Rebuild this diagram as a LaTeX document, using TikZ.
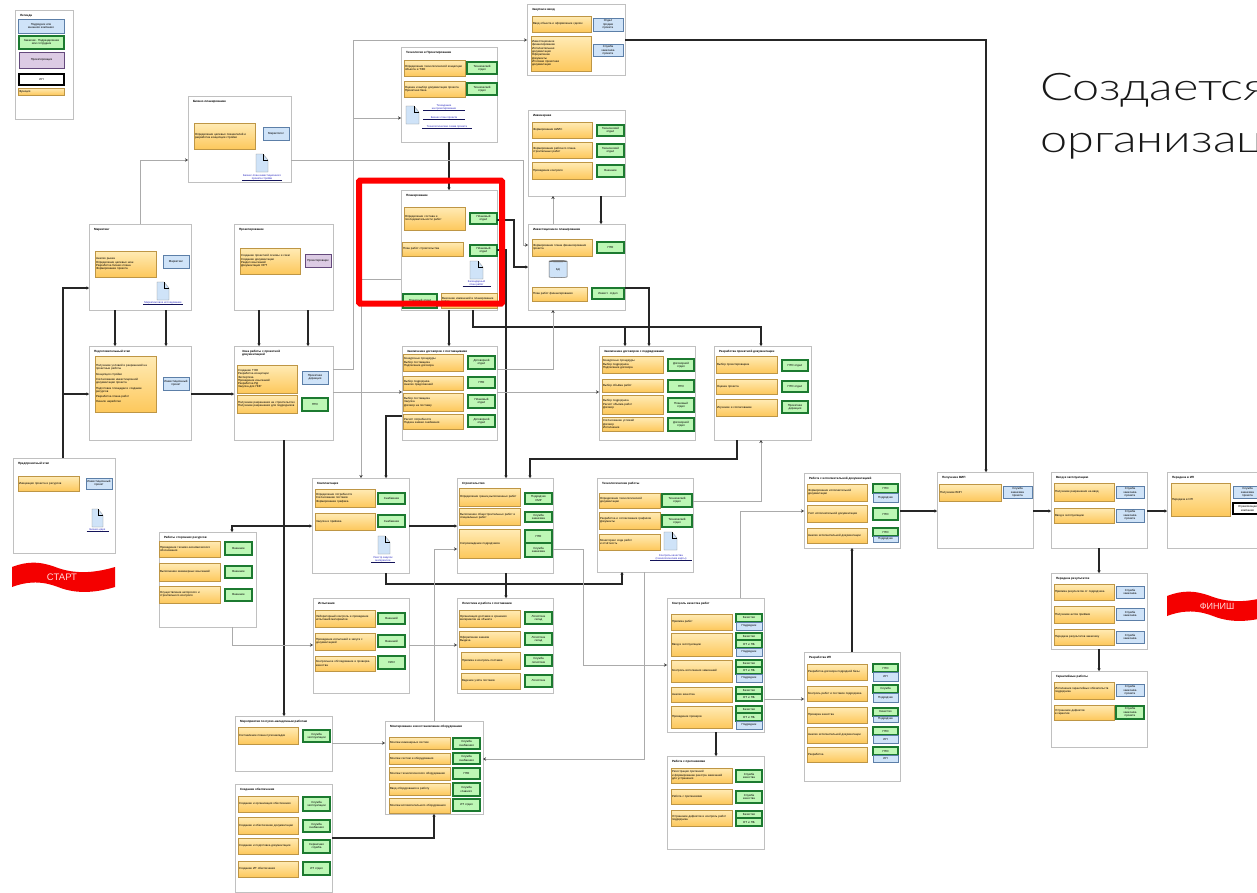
\documentclass[tikz,border=0pt]{standalone}
\usepackage{fontspec}
\setmainfont{Liberation Sans}
\newfontfamily\bigf[UprightFont=* Light,FakeStretch=1.28]{Lato}
\usetikzlibrary{arrows.meta,shapes.geometric}
\definecolor{fnT}{HTML}{FFEBB5}\definecolor{fnB}{HTML}{FDC85C}\definecolor{fnD}{HTML}{BE9645}
\definecolor{gnF}{HTML}{BDF7B5}\definecolor{gnD}{HTML}{1C7A30}
\definecolor{blF}{HTML}{CFE3F8}\definecolor{blD}{HTML}{5C7FA8}
\definecolor{puF}{HTML}{DCCBE4}\definecolor{puD}{HTML}{64497C}
\definecolor{pnD}{HTML}{C0C0C0}\definecolor{lnk}{HTML}{2A2AC0}\definecolor{nav}{HTML}{14145A}
\definecolor{bnr}{HTML}{F40000}\definecolor{gryL}{HTML}{ABABAB}
\tikzset{
  x=1pt,y=-1pt,
  base/.style={rectangle,inner sep=1pt,outer sep=0pt,font=\fontsize{2.9}{3.3}\selectfont,align=center},
  fn/.style={base,align=left,draw=fnD,line width=.5pt,top color=fnT,bottom color=fnB},
  gn/.style={base,draw=gnD,line width=1.1pt,fill=gnF},
  bl/.style={base,draw=blD,line width=.8pt,fill=blF},
  pu/.style={base,draw=puD,line width=.9pt,fill=puF},
  bk/.style={base,draw=black,line width=1.2pt,fill=white},
  panelbox/.style={rectangle,draw=pnD,line width=.55pt,fill=white,inner sep=0pt,outer sep=0pt},
  paneltitle/.style={inner sep=0pt,outer sep=0pt,anchor=north west,align=left,font=\fontsize{3}{3.5}\selectfont\bfseries},
  linktext/.style={inner sep=0pt,outer sep=0pt,align=center,text=lnk,font=\fontsize{2.7}{3.2}\selectfont},
  thk/.style={draw=black!85,line width=1.5pt,-{Stealth[length=2.6pt,width=3.4pt]}},
  gry/.style={draw=gryL,line width=.8pt,-{Stealth[length=3pt,width=3.4pt,color=black!75]}},
}
\newcommand{\bx}[7]{%
  \pgfmathsetmacro{\bw}{#5-#3}\pgfmathsetmacro{\bh}{#6-#4}\pgfmathsetmacro{\tw}{#5-#3-2}%
  \pgfmathsetmacro{\cx}{(#3+#5)/2}\pgfmathsetmacro{\cy}{(#4+#6)/2}%
  \node[#1,text width=\tw pt,minimum width=\bw pt,minimum height=\bh pt] (#2) at (\cx,\cy) {#7};}
\newcommand{\panel}[6]{%
  \pgfmathsetmacro{\bw}{#4-#2}\pgfmathsetmacro{\bh}{#5-#3}%
  \pgfmathsetmacro{\cx}{(#2+#4)/2}\pgfmathsetmacro{\cy}{(#3+#5)/2}%
  \node[panelbox,minimum width=\bw pt,minimum height=\bh pt] (#1) at (\cx,\cy) {};
  \pgfmathsetmacro{\tx}{#2+5}\pgfmathsetmacro{\ty}{#3+4}%
  \node[paneltitle] (#1-t) at (\tx,\ty) {#6};}
\newcommand{\doc}[4]{%
  \fill[blF,draw=black!45,line width=.3pt] (#1,#2) -- ({#3-5},#2) -- (#3,{#2+6}) -- (#3,#4) -- (#1,#4) -- cycle;
  \draw[black,line width=1pt] ({#3-5},#2) -- ({#3-5},{#2+6}) -- (#3,{#2+6});}
\newcommand{\lnkbar}[5]{% name, cx, cy, text, half-width of bar
  \node[linktext] (#1) at (#2,#3) {#4};
  \draw[nav,line width=.9pt] ([xshift=-#5pt,yshift=-.4pt]#1.south) -- ([xshift=#5pt,yshift=-.4pt]#1.south);}
\newcommand{\banner}[3]{% name, dx, dy
  \begin{scope}[shift={(#2,#3)}]
  \fill[bnr] (12,567) .. controls (28,561) and (40,561) .. (58,568) .. controls (78,575) and (98,572) .. (115,567)
     -- (115,587) .. controls (98,592) and (78,595) .. (58,587) .. controls (40,580) and (25,582) .. (12,587) -- cycle;
  \end{scope}}
\begin{document}
\begin{tikzpicture}
\clip (0,0) rectangle (1257,892);
\fill[white] (0,0) rectangle (1257,892);

% legend
\panel{leg}{15}{10}{73}{119}{Легенда}
\bx{bl}{leg1}{18}{19}{64}{33}{Подрядчик или\\внешняя компания}
\bx{gn}{leg2}{19}{36}{64}{49}{Заказчик. Подразделение\\или сотрудник}
\bx{pu}{leg3}{19}{52}{64}{68}{Проектировщик}
\bx{bk}{leg4}{19}{74}{64}{85}{ИП}
\bx{fn}{leg5}{18}{88}{64}{95}{\centering Функция}

% business plan
\panel{plan}{188}{96}{291}{182}{Бизнес-планирование}
\bx{fn}{plan1}{194}{123}{255}{149}{Определение целевых показателей и разработка концепции стройки}
\bx{bl}{plan2b}{263}{127}{289}{140}{Маркетолог}
\doc{256}{154}{268}{172}
\lnkbar{planl}{262}{177}{Бизнес-план инвестиционного\\проекта стройки}{20}

% market
\panel{market}{89}{224}{191}{310}{Маркетинг}
\bx{fn}{market1}{95}{251}{156}{277}{Анализ рынка\\Определение целевых ниш\\Разработка бизнес-плана\\Формирование проекта}
\bx{bl}{market2}{163}{255}{189}{268}{Маркетинг}
\doc{157}{282}{169}{300}
\lnkbar{marketl}{163}{303}{Маркетинговое исследование}{20}

% proj
\panel{proj}{234}{224}{333}{310}{Проектирование}
\bx{fn}{proj1}{240}{248}{300}{274}{Создание проектной основы и схем\\Создание документации\\Раздел изысканий\\Документация ОРТ}
\bx{pu}{proj2}{305}{254}{331}{267}{Проектировщик}

% prep
\panel{prefin}{89}{346}{191}{440}{Подготовительный этап}
\bx{fn}{prefin1}{95}{356}{156}{412}{Получение условий и разрешений на проектные работы\\[2pt]Концепция стройки\\[2pt]Согласование инвестиционной документации проекта\\[2pt]Подготовка площадки и создание ресурсов\\[2pt]Разработка плана работ\\[2pt]Начало наработки}
\bx{bl}{prefin2}{163}{377}{189}{390}{Инвестиционный\\проект}

% docs
\panel{docs}{234}{346}{333}{440}{\hspace*{3pt}Зона работы с проектной\\\hspace*{3pt}документацией}
\bx{fn}{docs1}{237}{365}{297}{393}{Создание ТЭО\\Разработка концепции\\Экспертиза\\Проведение изысканий\\Разработка РД\\Закупка для ПИР}
\bx{fn}{docs2}{237}{395}{297}{413}{Получение разрешения на строительство\\Получение разрешения для подрядчиков}
\bx{bl}{docs3}{302}{371}{328}{384}{Проектная\\дирекция}
\bx{gn}{docs4}{302}{398}{328}{411}{ПТО}

% prefeas
\panel{prefeas}{13}{458}{115}{553}{Предпроектный этап}
\bx{fn}{prefeas1}{18}{476}{79}{491}{Инициация проекта и ресурсов}
\bx{bl}{prefeas2}{86}{478}{112}{489}{Инвестиционный\\проект}
\doc{92}{509}{103}{527}
\lnkbar{prefeasl}{97.5}{530}{Бизнес-идея}{11}

% banners
\banner{st}{0}{0}
\node[inner sep=0pt,text=white!85!red,font=\fontsize{9.5}{10}\selectfont] (start) at (62,577) {СТАРТ};
\banner{fi}{1155}{29}
\node[inner sep=0pt,text=white!85!red,font=\fontsize{9}{10}\selectfont] (finish) at (1217,606) {ФИНИШ};

% sup
\panel{sup}{159}{532}{256}{627}{Работы сторонних ресурсов}
\bx{fn}{sup1}{159}{541}{220}{557}{Проведение технико-экономического обоснования}
\bx{fn}{sup2}{159}{563}{220}{581}{Выполнение инженерных изысканий}
\bx{fn}{sup3}{159}{586}{220}{603}{Осуществление авторского и строительного контроля}
\bx{gn}{sup4}{225}{542}{252}{555}{Внешние}
\bx{gn}{sup5}{225}{566}{252}{578}{Внешние}
\bx{gn}{sup6}{225}{589}{252}{601}{Внешние}

% zak
\panel{zak}{527}{4}{625}{75}{Закупки и ввод}
\bx{fn}{zak1}{532}{16}{591}{32}{Ввод объекта и оформление сделок}
\bx{fn}{zak2}{531}{36}{591}{71}{Инвестиционное\\финансирование\\Исполнительная\\документация\\Оформление\\Документы\\Итоговая проектная\\документация}
\bx{bl}{zak3}{593}{18}{623}{31}{Отдел\\продаж\\проекта}
\bx{bl}{zak4}{593}{45}{623}{56}{Служба\\заказчика\\проекта}

% tech
\panel{tech}{401}{47}{497}{142}{Технология и Проектирование}
\bx{fn}{tech1}{404}{60}{465}{76}{Определение технологической концепции объекта и ТЭО}
\bx{fn}{tech2}{404}{81}{465}{97}{Оценка и выбор документации проекта\\Проектная база}
\bx{gn}{tech3}{467}{62}{497}{74}{Технический\\отдел}
\bx{gn}{tech4}{467}{83}{497}{95}{Технический\\отдел}
\doc{406}{106}{419}{124}
\lnkbar{techl1}{444}{107}{Техзадание\\на проектирование}{21}
\lnkbar{techl2}{444}{118}{Бизнес-план проекта}{21}
\lnkbar{techl3}{447}{127}{Технологическая схема проекта}{25}

% eng
\panel{eng}{528}{110}{625}{196}{Инженерная}
\bx{fn}{eng1}{532}{122}{592}{138}{Формирование АИИС}
\bx{fn}{eng2}{532}{142}{592}{158}{Формирование рабочего плана строительных работ}
\bx{fn}{eng3}{532}{162}{592}{179}{Проведение контроля}
\bx{gn}{eng4}{597}{125}{624}{136}{Технический\\отдел}
\bx{gn}{eng5}{597}{144}{624}{157}{Технический\\отдел}
\bx{gn}{eng6}{597}{165}{624}{177}{Внешние}

% plan2
\panel{plb}{401}{190}{497}{310}{Планирование}
\bx{fn}{plb1}{404}{207}{465}{230}{Определение состава и последовательности работ}
\bx{fn}{plb2}{402}{242}{463}{256}{План работ строительства}
\bx{gn}{plb3}{470}{213}{497}{224}{Плановый\\отдел}
\bx{gn}{plb4}{470}{245}{497}{256}{Плановый\\отдел}
\doc{470}{261}{483}{279}
\lnkbar{plbl}{476.5}{283}{Календарный\\план работ}{14}
\bx{gn}{plb5}{403}{294}{437}{308}{Плановый отдел}
\bx{fn}{plb6}{441}{293}{497}{308}{Внесение изменений в планирование работ}

% invest
\panel{invest}{528}{224}{625}{310}{Инвестиционное планирование}
\bx{fn}{invest1}{532}{239}{592}{256}{Формирование плана финансирования проекта}
\bx{gn}{invest2}{597}{242}{624}{253}{ПТО}
\node[cylinder,shape border rotate=90,aspect=.35,draw=black!60,line width=.5pt,cylinder uses custom fill,cylinder body fill=blF,cylinder end fill=black!55,minimum width=18pt,minimum height=17pt,inner sep=0pt,font=\fontsize{2.8}{3}\selectfont] (invest3) at (558,269.5) {БД};
\bx{fn}{invest4}{532}{287}{587}{301}{План работ финансирования}
\bx{gn}{invest5}{592}{288}{624}{299}{Инвест. отдел}

% contr
\panel{contr}{402}{346}{497}{440}{Заключение договоров с поставщиками}
\bx{fn}{contr1}{403}{354}{463}{371}{Конкурсные процедуры\\Выбор поставщика\\Подписание договора}
\bx{fn}{contr2}{403}{376}{463}{390}{Выбор подрядчика\\Анализ предложений}
\bx{fn}{contr3}{403}{393}{463}{411}{Выбор поставщика\\Закупка\\Договор на поставку}
\bx{fn}{contr4}{403}{414}{463}{429}{Расчёт потребности\\Подача заявки снабжения}
\bx{gn}{contr5}{468}{356}{495}{369}{Договорной\\отдел}
\bx{gn}{contr6}{468}{377}{495}{388}{ПТО}
\bx{gn}{contr7}{468}{395}{495}{408}{Плановый\\отдел}
\bx{gn}{contr8}{468}{415}{495}{427}{Договорной\\отдел}

% dog2
\panel{dog}{599}{346}{695}{440}{Заключение договоров с подрядчиками}
\bx{fn}{dog1}{602}{356}{663}{373}{Конкурсные процедуры\\Выбор подрядчика\\Подписание договора}
\bx{fn}{dog2}{602}{379}{663}{392}{Выбор объёма работ}
\bx{fn}{dog3}{602}{395}{663}{414}{Выбор подрядчика\\Расчёт объёма работ\\Договор}
\bx{fn}{dog4}{602}{417}{663}{431}{Согласование условий\\Договор\\Исполнение}
\bx{gn}{dog5}{668}{359}{694}{371}{Договорной\\отдел}
\bx{gn}{dog6}{668}{380}{694}{392}{ПТО}
\bx{gn}{dog7}{668}{398}{694}{412}{Плановый\\отдел}
\bx{gn}{dog8}{668}{418}{694}{431}{Договорной\\отдел}

% dev
\panel{dev}{714}{346}{811}{440}{Разработка проектной документации}
\bx{fn}{dev1}{716}{356}{777}{373}{Выбор проектировщика}
\bx{fn}{dev2}{716}{379}{777}{394}{Оценка проекта}
\bx{fn}{dev3}{716}{399}{777}{416}{Изучение и согласование}
\bx{gn}{dev4}{782}{360}{808}{371}{ПТО отдел}
\bx{gn}{dev5}{782}{381}{808}{392}{ПТО отдел}
\bx{gn}{dev6}{782}{401}{808}{413}{Проектная\\дирекция}

% build
\panel{build}{312}{478}{409}{573}{Комплектация}
\bx{fn}{build1}{315}{489}{375}{507}{Определение потребности\\Согласование поставок\\Формирование графика}
\bx{fn}{build2}{315}{513}{375}{530}{Закупка и приёмка}
\bx{gn}{build3}{378}{493}{405}{504}{Снабжение}
\bx{gn}{build4}{378}{515}{405}{527}{Снабжение}
\doc{378}{536}{390}{554}
\lnkbar{buildl}{383}{559}{Реестр закупок\\материалов}{12}

% stroy
\panel{stroy}{457}{478}{553}{573}{Строительство}
\bx{fn}{stroy1}{459}{488}{520}{506}{Определение границ выполненных работ}
\bx{fn}{stroy2}{459}{508}{520}{525}{Выполнение общестроительных работ и специальных работ}
\bx{fn}{stroy3}{459}{529}{520}{558}{Сопровождение подрядчиков}
\bx{gn}{stroy4}{525}{493}{552}{504}{Подрядчик\\СМР}
\bx{gn}{stroy5}{525}{512}{552}{522}{Служба\\заказчика}
\bx{gn}{stroy6}{525}{530}{552}{543}{ПТО}
\bx{gn}{stroy7}{525}{543}{552}{557}{Служба\\заказчика}

% tf
\panel{tf}{597}{478}{693}{572}{Технологические работы}
\bx{fn}{tf1}{599}{493}{660}{508}{Определение технологической документации}
\bx{fn}{tf2}{599}{512}{660}{529}{Разработка и согласование графиков\\Документы}
\bx{fn}{tf3}{599}{534}{660}{550}{Мониторинг хода работ\\и отчётность}
\bx{gn}{tf4}{662}{494}{692}{507}{Технический\\отдел}
\bx{gn}{tf5}{662}{515}{692}{527}{Технический\\отдел}
\doc{664}{532}{677}{550}
\lnkbar{tfl}{671}{557}{Контроль качества\\(технологические карты)}{21}

% isp
\panel{isp}{313}{598}{409}{693}{Испытания}
\bx{fn}{isp1}{315}{610}{375}{627}{Лабораторный контроль и проведение испытаний материалов}
\bx{fn}{isp2}{315}{633}{375}{650}{Проведение испытаний и запуск с документацией}
\bx{fn}{isp3}{315}{656}{375}{671}{Контрольное обследование и проверка качества}
\bx{gn}{isp4}{378}{613}{405}{624}{Внешний}
\bx{gn}{isp5}{378}{635}{405}{647}{Внешний}
\bx{gn}{isp6}{378}{656}{405}{669}{НИИ}

% post
\panel{post}{457}{598}{553}{693}{Логистика и работа с поставками}
\bx{fn}{post1}{459}{610}{520}{627}{Организация доставки и хранения материалов на объекте}
\bx{fn}{post2}{459}{631}{520}{647}{Оформление заказов\\Выдача}
\bx{fn}{post3}{461}{652}{520}{669}{Приёмка и контроль поставки}
\bx{fn}{post4}{461}{673}{520}{689}{Ведение учёта поставок}
\bx{gn}{post5}{525}{612}{552}{624}{Логистика\\склад}
\bx{gn}{post6}{525}{633}{552}{645}{Логистика\\склад}
\bx{gn}{post7}{525}{655}{552}{666}{Служба\\логистики}
\bx{gn}{post8}{525}{675}{552}{687}{Логистика}

% mer
\panel{mer}{235}{716}{332}{771}{Мероприятия по пуско-наладочным работам}
\bx{fn}{mer1}{238}{727}{298}{744}{Составление плана пусконаладки}
\bx{gn}{mer2}{303}{730}{330}{742}{Служба\\эксплуатации}

% obesp
\panel{obesp}{235}{784}{332}{892}{Создание обеспечения}
\bx{fn}{obesp1}{238}{796}{298}{812}{Создание и организация обеспечения}
\bx{fn}{obesp2}{238}{817}{298}{834}{Создание и обеспечение документации}
\bx{fn}{obesp3}{238}{838}{298}{854}{Создание и подготовка документации}
\bx{fn}{obesp4}{238}{861}{298}{877}{Создание ИТ обеспечения}
\bx{gn}{obesp5}{303}{797}{330}{811}{Служба\\эксплуатации}
\bx{gn}{obesp6}{303}{820}{330}{832}{Служба\\снабжения}
\bx{gn}{obesp7}{303}{840}{330}{853}{Сервисная\\служба}
\bx{gn}{obesp8}{303}{862}{330}{875}{ИТ отдел}

% mont
\panel{mont}{385}{721}{483}{814}{Монтирование и восстановление оборудования}
\bx{fn}{mont1}{389}{737}{450}{749}{Монтаж инженерных систем}
\bx{fn}{mont2}{389}{753}{450}{764}{Монтаж систем и оборудования}
\bx{fn}{mont3}{389}{767}{450}{780}{Монтаж технологического оборудования}
\bx{fn}{mont4}{389}{783}{450}{795}{Ввод оборудования в работу}
\bx{fn}{mont5}{389}{798}{450}{813}{Монтаж вспомогательного оборудования}
\bx{gn}{mont6}{453}{738}{480}{749}{Служба\\снабжения}
\bx{gn}{mont7}{453}{753}{480}{764}{Служба\\снабжения}
\bx{gn}{mont8}{453}{768}{480}{779}{ПТО}
\bx{gn}{mont9}{453}{783}{480}{796}{Служба\\главного}
\bx{gn}{mont10}{453}{799}{480}{811}{ИТ отдел}

% kk
\panel{kk}{667}{598}{764}{732}{Контроль качества работ}
\bx{fn}{kk1}{671}{614}{732}{630}{Приёмка работ}
\bx{fn}{kk2}{671}{633}{732}{656}{Ввод в эксплуатацию}
\bx{fn}{kk3}{671}{660}{732}{682}{Контроль исполнения замечаний}
\bx{fn}{kk4}{671}{687}{732}{702}{Анализ качества}
\bx{fn}{kk5}{671}{706}{732}{728}{Проведение проверок}
\bx{gn}{kkA}{736}{614}{762}{622}{Качество}
\bx{bl}{kkB}{736}{622}{762}{630}{Подрядчик}
\bx{gn}{kkC}{736}{633}{762}{640}{Качество}
\bx{gn}{kkD}{736}{640}{762}{648}{ОТ и ПБ}
\bx{bl}{kkE}{736}{648}{762}{656}{Подрядчик}
\bx{gn}{kkF}{736}{660}{762}{667}{Качество}
\bx{gn}{kkG}{736}{667}{762}{674}{ОТ и ПБ}
\bx{bl}{kkH}{736}{674}{762}{682}{Подрядчик}
\bx{gn}{kkI}{736}{687}{762}{694}{Качество}
\bx{gn}{kkJ}{736}{694}{762}{701}{ОТ и ПБ}
\bx{gn}{kkK}{736}{706}{762}{713}{Качество}
\bx{gn}{kkL}{736}{713}{762}{721}{ОТ и ПБ}
\bx{bl}{kkM}{736}{721}{762}{729}{Подрядчик}

% test
\panel{test}{667}{756}{764}{849}{Работа с претензиями}
\bx{fn}{test1}{671}{768}{732}{783}{Регистрация претензий\\и формирование реестра замечаний\\для устранения}
\bx{fn}{test2}{671}{789}{732}{804}{Работа с претензиями}
\bx{fn}{test3}{671}{810}{732}{826}{Устранение дефектов и контроль работ подрядчика}
\bx{gn}{test4}{736}{770}{762}{782}{Служба\\качества}
\bx{gn}{test5}{736}{791}{762}{803}{Служба\\качества}
\bx{gn}{test6}{736}{811}{762}{818}{Качество}
\bx{gn}{test7}{736}{818}{762}{826}{ОТ и ПБ}

% rec
\panel{rec}{804}{473}{900}{548}{Работа с исполнительной документацией}
\bx{fn}{rec1}{807}{484}{867}{501}{Формирование исполнительной документации}
\bx{fn}{rec2}{807}{505}{867}{522}{Учёт исполнительной документации}
\bx{fn}{rec3}{807}{528}{867}{543}{Анализ исполнительной документации}
\bx{gn}{rec4}{873}{484}{898}{493}{ПТО}
\bx{bl}{rec5}{873}{493}{898}{502}{Подрядчик}
\bx{gn}{rec6}{873}{508}{898}{520}{ПТО}
\bx{gn}{rec7}{873}{528}{898}{536}{ПТО}
\bx{bl}{rec8}{873}{536}{898}{542}{Подрядчик}

% rab
\panel{rab}{804}{652}{900}{781}{Разработка ИП}
\bx{fn}{rab1}{807}{664}{867}{680}{Разработка договора подрядной базы}
\bx{fn}{rab2}{807}{686}{867}{701}{Контроль работ и поставок подрядчика}
\bx{fn}{rab3}{807}{707}{867}{723}{Проверка качества}
\bx{fn}{rab4}{807}{727}{867}{743}{Анализ исполнительной документации}
\bx{fn}{rab5}{807}{747}{867}{762}{Разработка}
\bx{gn}{rab6}{873}{664}{898}{672}{ПТО}
\bx{bl}{rab7}{873}{672}{898}{681}{ИП}
\bx{gn}{rab8}{873}{685}{898}{693}{Служба}
\bx{bl}{rab9}{873}{693}{898}{702}{Подрядчик}
\bx{gn}{rab10}{873}{708}{898}{716}{Качество}
\bx{bl}{rab11}{873}{716}{898}{722}{Подрядчик}
\bx{gn}{rab12}{873}{727}{898}{735}{ПТО}
\bx{bl}{rab13}{873}{735}{898}{743}{ИП}
\bx{gn}{rab14}{873}{747}{898}{755}{ПТО}
\bx{bl}{rab15}{873}{755}{898}{762}{ИП}

% pol
\panel{pol}{937}{472}{1033}{548}{Получение ВИП}
\bx{fn}{pol1}{939}{484}{1001}{501}{Получение ВИП}
\bx{bl}{pol2}{1003}{487}{1032}{498}{Служба\\заказчика\\проекта}

% vv
\panel{vv}{1051}{472}{1147}{548}{Ввод в эксплуатацию}
\bx{fn}{vv1}{1054}{483}{1114}{501}{Получение разрешения на ввод}
\bx{fn}{vv2}{1054}{508}{1114}{523}{Ввод в эксплуатацию}
\bx{bl}{vv3}{1116}{487}{1144}{498}{Служба\\заказчика\\проекта}
\bx{bl}{vv4}{1116}{509}{1144}{522}{Служба\\заказчика\\проекта}

% per
\panel{per}{1167}{472}{1264}{548}{Передача в ИП}
\bx{fn}{per1}{1171}{483}{1230}{516}{Передача в ИП}
\bx{bl}{per2}{1233}{487}{1262}{498}{Служба\\заказчика\\проекта}
\bx{bk}{per3}{1233}{503}{1262}{514}{Управляющая\\компания}

% ppp
\panel{ppp}{1051}{573}{1147}{649}{Передача результатов}
\bx{fn}{ppp1}{1054}{584}{1114}{600}{Приёмка результатов от подрядчика}
\bx{fn}{ppp2}{1054}{606}{1114}{623}{Получение актов приёмки}
\bx{fn}{ppp3}{1054}{629}{1114}{645}{Передача результатов заказчику}
\bx{bl}{ppp4}{1116}{586}{1144}{598}{Служба\\заказчика}
\bx{bl}{ppp5}{1116}{608}{1144}{620}{Служба\\заказчика}
\bx{bl}{ppp6}{1116}{631}{1144}{643}{Служба\\заказчика}

% sv
\panel{sv}{1051}{671}{1147}{747}{Гарантийные работы}
\bx{fn}{sv1}{1054}{682}{1114}{699}{Исполнение гарантийных обязательств подрядчика}
\bx{fn}{sv2}{1054}{705}{1114}{720}{Устранение дефектов\\в гарантии}
\bx{bl}{sv3}{1116}{685}{1144}{696}{Служба\\заказчика\\проекта}
\bx{gn}{sv4}{1116}{706}{1144}{719}{Служба\\заказчика\\проекта}

% thick connectors
\draw[thk] (prefeas.north -| 63,0) -- (63,288) -- (market.west |- 0,288);
\coordinate (jA) at (63,394);
\draw[thk] (jA) -- (prefin.west |- 0,394);
\draw[thk] (market.south -| 115,0) -- (prefin.north -| 115,0);
\draw[thk] (market.south -| 166,0) -- (prefin.north -| 166,0);
\draw[thk] (proj.south -| 259,0) -- (docs.north -| 259,0);
\draw[thk] (proj.south -| 308,0) -- (docs.north -| 308,0);
\draw[thk] (prefin.east |- 0,394) -- (docs.west |- 0,394);
\draw[thk] (docs.south -| 284,0) -- (mer.north -| 284,0);
\coordinate (jB) at (284,526);
\draw[thk] (jB) -- (232,526) -- (sup.north -| 232,0);
\draw[thk] (jB) -- (build.west |- 0,526);
\draw[thk] (tech.south -| 449,0) -- (plb.north -| 449,0);
\draw[thk] (plb.south -| 449,0) -- (contr.north -| 449,0);
\draw[thk] (plb.east |- 0,220) -- (514,220) -- (514,267) -- (invest.west |- 0,267);
\draw[thk] (plb.east |- 0,250) -- (506,250) -- (stroy.north -| 506,0);
\draw[thk] (plb.south -| 473,0) -- (473,327) -- (761,327) -- (dev.north -| 761,0);
\draw[thk] (625,327) -- (dog.north -| 625,0);
\draw[thk] (invest.east |- 0,288) -- (649,288) -- (dog.north -| 649,0);
\draw[thk] (eng.south -| 601,0) -- (invest.north -| 601,0);
\draw[thk] (contr.west |- 0,416) -- (386,416) -- (build.north -| 386,0);
\draw[thk] (build.east |- 0,526) -- (stroy.west |- 0,526);
\draw[thk] (dev.south -| 737,0) -- (737,459) -- (530,459) -- (stroy.north -| 530,0);
\draw[thk] (build.south -| 386,0) -- (386,584) -- (622,584) -- (tf.south -| 622,0);
\draw[thk] (stroy.south -| 506,0) -- (post.north -| 506,0);
\draw[thk] (obesp.east |- 0,838) -- (434,838) -- (mont.south -| 434,0);
\draw[thk] (rec.east |- 0,511) -- (pol.west |- 0,511);
\draw[thk] (pol.east |- 0,511) -- (vv.west |- 0,511);
\draw[thk] (vv.east |- 0,511) -- (per.west |- 0,511);
\draw[thk] (vv.south -| 1099,0) -- (ppp.north -| 1099,0);
\draw[thk] (ppp.south -| 1099,0) -- (sv.north -| 1099,0);
\draw[thk] (rab.north -| 852,0) -- (rec.south -| 852,0);
\draw[thk] (kk.south -| 716,0) -- (test.north -| 716,0);
\draw[thk] (zak.east |- 0,40) -- (986,40) -- (pol.north -| 986,0);

% grey connectors
\draw[gry] (market.north -| 140,0) -- (140,160) -- (plan.west |- 0,160);
\draw[gry] (plan.east |- 0,160) -- (523,160) -- (523,245) -- (invest.west |- 0,245);
\draw[gry] (docs.east |- 0,369) -- (353,369) -- (353,40) -- (zak.west |- 0,40);
\draw[gry] (353,118) -- (tech.west |- 0,118);
\draw[gry] (plb.west |- 0,279) -- (361,279) -- (build.north -| 361,0);
\draw[gry] (docs.east |- 0,392) -- (contr.west |- 0,392);
\draw[gry] (contr.east |- 0,392) -- (dog.west |- 0,392);
\draw[gry] (contr.east |- 0,369) -- (553,369) -- (invest.south -| 553,0);
\draw[gry] (invest.north -| 553,0) -- (eng.south -| 553,0);
\draw[gry] (tf.east |- 0,501) -- (761,501) -- (dev.south -| 761,0);
\draw[gry] (tf.south -| 644,0) -- (644,759) -- (mont.east |- 0,759);
\draw[gry] (mont.north -| 434,0) -- (434,549) -- (stroy.west |- 0,549);
\draw[gry] (isp.east |- 0,645) -- (post.west |- 0,645);
\draw[gry] (sup.south -| 232,0) -- (232,645) -- (isp.west |- 0,645);
\draw[gry] (mer.east |- 0,743) -- (mont.west |- 0,743);
\draw[gry] (stroy.east |- 0,549) -- (583,549) -- (583,665) -- (kk.west |- 0,665);
\draw[gry] (kk.north -| 740,0) -- (740,511) -- (rec.west |- 0,511);
\draw[gry] (kk.east |- 0,699) -- (rab.west |- 0,699);

% red highlight
\node[rectangle,draw=red,line width=6pt,rounded corners=1pt,inner sep=0pt,minimum width=143pt,minimum height=123pt] (hl) at (430.5,242) {};

% headline
\node[inner sep=0pt,anchor=base west,font=\bigf\fontsize{38}{44}\selectfont,text=black!90] (head1) at (1040,100) {Создается};
\node[inner sep=0pt,anchor=base west,font=\bigf\fontsize{38}{44}\selectfont,text=black!90] (head2) at (1040,152) {организац};
\end{tikzpicture}
\end{document}
